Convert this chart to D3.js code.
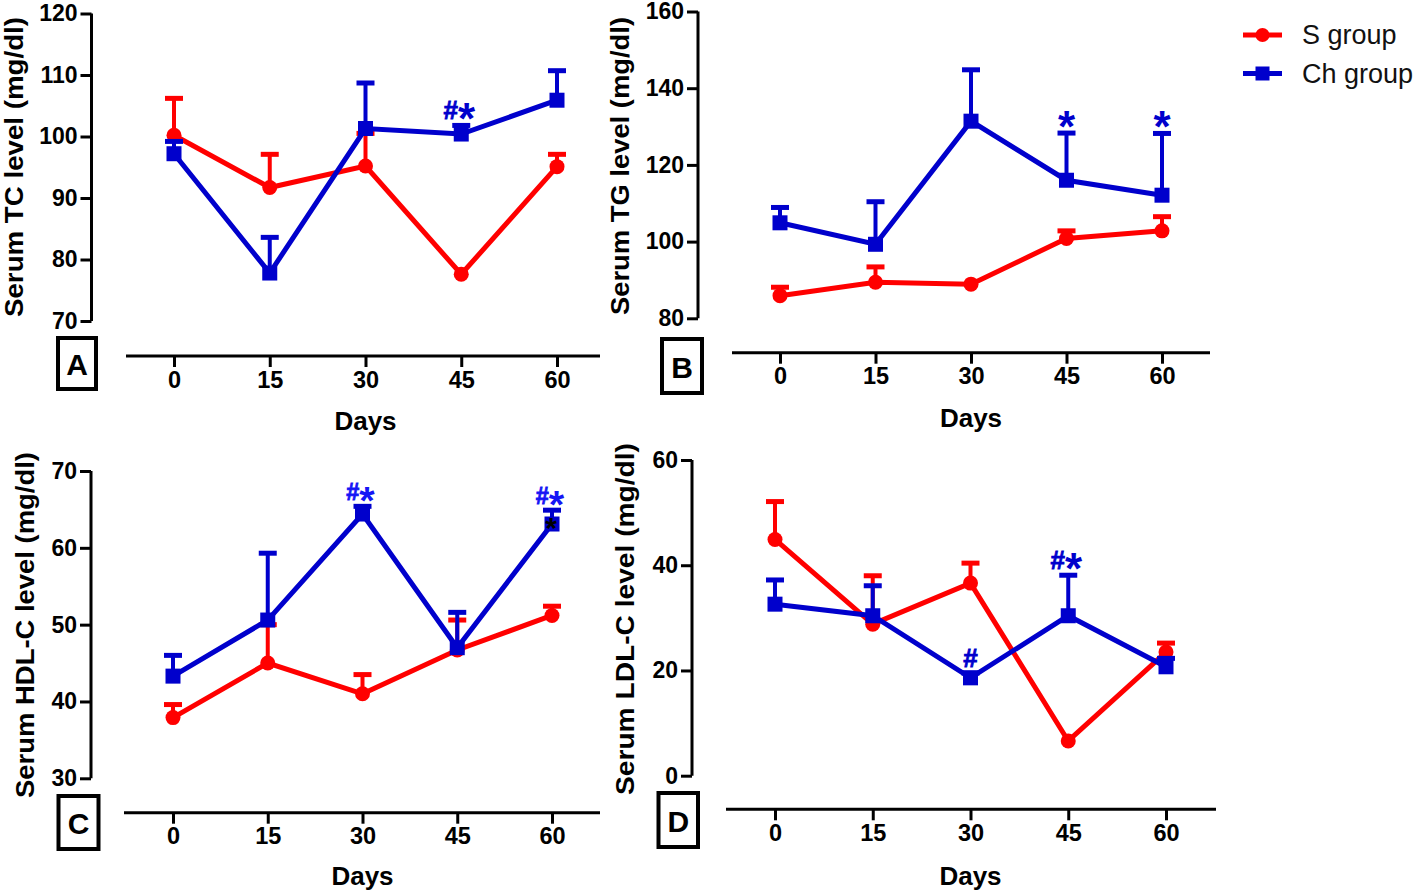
<!DOCTYPE html>
<html><head><meta charset="utf-8">
<script src="https://cdn.jsdelivr.net/npm/d3@7"></script>
<style>
html,body{margin:0;padding:0;background:#fff;}
svg{display:block;font-family:"Liberation Sans",Arial,Helvetica,sans-serif;}
</style></head>
<body>
<svg id="chart" width="1418" height="894"></svg>
<script>
// ---------- data ----------
const days = [0, 15, 30, 45, 60];
const seriesNames = ["S group", "Ch group"];

const tcS = [100.2, 91.7, 95.2, 77.6, 95.1];
const tcSErr = [6.0, 5.4, 5.3, 0, 2.0];
const tcCh = [97.2, 77.8, 101.3, 100.4, 105.9];
const tcChErr = [2.0, 5.8, 7.4, 1.4, 4.8];

const tgS = [85.9, 89.4, 88.9, 100.8, 102.8];
const tgSErr = [2.2, 4.0, 0, 2.0, 3.7];
const tgCh = [104.9, 99.3, 131.4, 116.0, 112.1];
const tgChErr = [4.0, 11.1, 13.4, 12.3, 16.1];

const hdlS = [37.9, 45.0, 41.0, 46.7, 51.2];
const hdlSErr = [1.7, 5.0, 2.5, 3.9, 1.2];
const hdlCh = [43.3, 50.6, 64.4, 47.0, 63.1];
const hdlChErr = [2.7, 8.7, 1.0, 4.6, 1.8];

const ldlS = [44.9, 28.8, 36.6, 6.6, 23.5];
const ldlSErr = [7.2, 9.2, 3.8, 0, 1.7];
const ldlCh = [32.6, 30.4, 18.6, 30.4, 20.7];
const ldlChErr = [4.6, 5.7, 0.9, 7.7, 1.6];

const tcTicks = [70, 80, 90, 100, 110, 120];
const tgTicks = [80, 100, 120, 140, 160];
const hdlTicks = [30, 40, 50, 60, 70];
const ldlTicks = [0, 20, 40, 60];

const tcMarks = [{day: 45, text: "#*"}];
const tgMarks = [{day: 45, text: "*"}, {day: 60, text: "*"}];
const hdlMarks = [{day: 30, text: "#*"}, {day: 60, text: "#*"}];
const ldlMarks = [{day: 30, text: "#"}, {day: 45, text: "#*"}];

const yTitles = ["Serum TC level (mg/dl)", "Serum TG level (mg/dl)", "Serum HDL-C level (mg/dl)", "Serum LDL-C level (mg/dl)"];
const panelLetters = ["A", "B", "C", "D"];
const xTitle = "Days";

// ---------- style ----------
const RED = "#ff0000", BLUE = "#0000cc";
const FONT = "'Liberation Sans',Arial,Helvetica,sans-serif";
const svg = d3.select("#chart");

const panels = [
  {letter: panelLetters[0], title: yTitles[0], ticks: tcTicks, s: tcS, sErr: tcSErr, ch: tcCh, chErr: tcChErr, marks: tcMarks, markColor: BLUE, markScale: 1,
   yAxisX: 91.5, yTop: 13.5, yBot: 321, xAxisY: 356, xLineL: 126, xLineR: 600, x0: 174, x60: 557,
   box: [58, 338, 38, 51], titleX: 14, titleY: 167, daysY: 421, titleLen: 300},
  {letter: panelLetters[1], title: yTitles[1], ticks: tgTicks, s: tgS, sErr: tgSErr, ch: tgCh, chErr: tgChErr, marks: tgMarks, markColor: BLUE, markScale: 1,
   yAxisX: 698, yTop: 11.5, yBot: 318.3, xAxisY: 352.7, xLineL: 732, xLineR: 1210, x0: 780, x60: 1162,
   box: [662, 339, 40, 54], titleX: 620, titleY: 166, daysY: 418, titleLen: 298},
  {letter: panelLetters[2], title: yTitles[2], ticks: hdlTicks, s: hdlS, sErr: hdlSErr, ch: hdlCh, chErr: hdlChErr, marks: hdlMarks, markColor: "#1515f5", markScale: 0.9,
   yAxisX: 91, yTop: 471, yBot: 778.3, xAxisY: 812.7, xLineL: 124, xLineR: 600, x0: 173, x60: 552,
   box: [58.5, 796, 40, 53], titleX: 25, titleY: 625, daysY: 876, titleLen: 346},
  {letter: panelLetters[3], title: yTitles[3], ticks: ldlTicks, s: ldlS, sErr: ldlSErr, ch: ldlCh, chErr: ldlChErr, marks: ldlMarks, markColor: BLUE, markScale: 1,
   yAxisX: 692, yTop: 460, yBot: 775.7, xAxisY: 809.3, xLineL: 726, xLineR: 1216, x0: 775, x60: 1166,
   box: [658.5, 793, 39.5, 54], titleX: 625, titleY: 619, daysY: 876, titleLen: 352}
];

panels.forEach(p => {
  const g = svg.append("g");
  const y = d3.scaleLinear().domain(d3.extent(p.ticks)).range([p.yBot, p.yTop]);
  const x = d3.scaleLinear().domain([days[0], days[days.length - 1]]).range([p.x0, p.x60]);

  // y axis
  const ya = g.append("g").attr("transform", `translate(${p.yAxisX},0)`)
    .call(d3.axisLeft(y).tickValues(p.ticks).tickSize(11).tickPadding(3).tickFormat(d3.format("d")));
  ya.select(".domain").attr("stroke", "#000").attr("stroke-width", 3).attr("d", `M0,${p.yBot}V${p.yTop}`);
  ya.selectAll(".tick line").attr("stroke", "#000").attr("stroke-width", 3);
  ya.selectAll(".tick text").attr("font-size", 23).attr("font-weight", "bold").attr("fill", "#000")
    .attr("font-family", FONT);

  // x axis
  const xa = g.append("g").attr("transform", `translate(0,${p.xAxisY})`)
    .call(d3.axisBottom(x).tickValues(days).tickSize(11).tickPadding(4).tickFormat(d3.format("d")));
  xa.select(".domain").attr("stroke", "#000").attr("stroke-width", 3).attr("d", `M${p.xLineL},0H${p.xLineR}`);
  xa.selectAll(".tick line").attr("stroke", "#000").attr("stroke-width", 3);
  xa.selectAll(".tick text").attr("font-size", 23.5).attr("font-weight", "bold").attr("fill", "#000")
    .attr("font-family", FONT);

  // titles
  g.append("text").attr("transform", `translate(${p.titleX},${p.titleY}) rotate(-90)`)
    .attr("text-anchor", "middle").attr("dominant-baseline", "central")
    .attr("font-size", 25).attr("font-weight", "bold").attr("fill", "#000")
    .attr("textLength", p.titleLen).attr("lengthAdjust", "spacingAndGlyphs")
    .text(p.title);
  g.append("text").attr("x", (p.x0 + p.x60) / 2).attr("y", p.daysY)
    .attr("text-anchor", "middle").attr("dominant-baseline", "central")
    .attr("font-size", 26).attr("font-weight", "bold").attr("fill", "#000").text(xTitle);

  // panel letter box
  const [bx, by, bw, bh] = p.box;
  g.append("rect").attr("x", bx).attr("y", by).attr("width", bw).attr("height", bh)
    .attr("fill", "#fff").attr("stroke", "#000").attr("stroke-width", 4);
  g.append("text").attr("x", bx + bw / 2).attr("y", by + bh / 2 + 1)
    .attr("text-anchor", "middle").attr("dominant-baseline", "central")
    .attr("font-size", 30).attr("font-weight", "bold").attr("fill", "#000").text(p.letter);

  const groups = [
    {vals: p.s, err: p.sErr, color: RED, shape: "circle"},
    {vals: p.ch, err: p.chErr, color: BLUE, shape: "square"}
  ];
  const line = d3.line().x((d, i) => x(days[i])).y(d => y(d));

  groups.forEach(gr => {
    const sg = g.append("g");
    // error bars (upper only)
    days.forEach((dd, i) => {
      if (!gr.err[i]) return;
      const cx = x(dd), top = y(gr.vals[i] + gr.err[i]), mid = y(gr.vals[i]);
      sg.append("line").attr("x1", cx).attr("x2", cx).attr("y1", mid).attr("y2", top)
        .attr("stroke", gr.color).attr("stroke-width", 4);
      sg.append("line").attr("x1", cx - 9).attr("x2", cx + 9).attr("y1", top).attr("y2", top)
        .attr("stroke", gr.color).attr("stroke-width", 5);
    });
    sg.append("path").attr("d", line(gr.vals)).attr("fill", "none")
      .attr("stroke", gr.color).attr("stroke-width", 5).attr("stroke-linejoin", "miter");
    days.forEach((dd, i) => {
      const cx = x(dd), cy = y(gr.vals[i]);
      if (gr.shape === "circle") {
        sg.append("circle").attr("cx", cx).attr("cy", cy).attr("r", 7.5).attr("fill", gr.color);
      } else {
        sg.append("rect").attr("x", cx - 7.5).attr("y", cy - 7.5).attr("width", 15).attr("height", 15).attr("fill", gr.color);
      }
    });
  });

  // significance marks
  p.marks.forEach(m => {
    const i = days.indexOf(m.day);
    const top = y(p.ch[i] + p.chErr[i]);
    const k = p.markScale;
    const t = g.append("text").attr("x", x(m.day) - (m.text.length > 1 ? 2 : 0)).attr("y", top - 6)
      .attr("text-anchor", "middle").attr("font-weight", "bold").attr("fill", p.markColor)
      .attr("font-family", FONT).attr("font-size", 26 * k);
    [...m.text].forEach(ch => {
      const ts = t.append("tspan").text(ch);
      if (ch === "#") ts.attr("stroke", p.markColor).attr("stroke-width", 0.8);
      if (ch === "*") ts.attr("font-size", 44 * k).attr("dy", 15 * k);
    });
  });
});

// small black asterisk in panel C at day 60
{
  const p = panels[2];
  const y = d3.scaleLinear().domain(d3.extent(p.ticks)).range([p.yBot, p.yTop]);
  const x = d3.scaleLinear().domain([days[0], days[days.length - 1]]).range([p.x0, p.x60]);
  svg.append("text").attr("x", x(days[4]) - 1).attr("y", y(hdlCh[4]) + 14)
    .attr("text-anchor", "middle").attr("font-size", 30).attr("font-weight", "bold").attr("fill", "#000").text("*");
}

// legend
const legend = svg.append("g");
seriesNames.forEach((name, i) => {
  const ly = 35 + i * 38.5;
  const col = i === 0 ? RED : BLUE;
  legend.append("line").attr("x1", 1243).attr("x2", 1282).attr("y1", ly).attr("y2", ly)
    .attr("stroke", col).attr("stroke-width", 5);
  if (i === 0) legend.append("circle").attr("cx", 1262.5).attr("cy", ly).attr("r", 7).attr("fill", col);
  else legend.append("rect").attr("x", 1255.5).attr("y", ly - 7).attr("width", 14).attr("height", 14).attr("fill", col);
  legend.append("text").attr("x", 1302).attr("y", ly).attr("dominant-baseline", "central")
    .attr("font-size", 27).attr("fill", "#111").text(name);
});
</script>
</body></html>
